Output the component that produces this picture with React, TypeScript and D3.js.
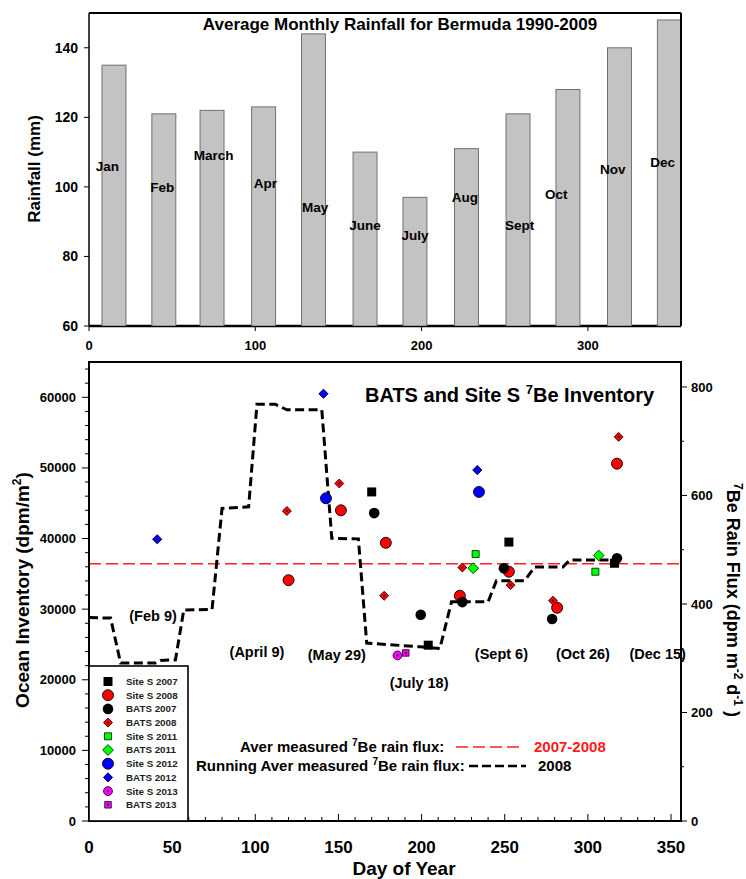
import React from "react";
import * as d3 from "d3";

// top panel: monthly rainfall
const months = ["Jan", "Feb", "March", "Apr", "May", "June", "July", "Aug", "Sept", "Oct", "Nov", "Dec"];
const monthDay = [15, 45, 74, 105, 135, 166, 196, 227, 258, 288, 319, 349];
const rainfall = [135, 121, 122, 123, 144, 110, 97, 111, 121, 128, 140, 148];
// where the month names sit (day, mm)
const monthLabelDay = [11, 44, 75, 106, 136, 166, 196, 226, 259, 281, 315, 345];
const monthLabelMm = [106, 100, 109, 101, 94, 89, 86, 97, 89, 98, 105, 107];

const rainTicks = [60, 80, 100, 120, 140];
const topDayTicks = [0, 100, 200, 300];

// bottom panel: 7Be inventory, [day, dpm/m2]
const siteS2007 = [[170, 46600], [204, 24900], [252.5, 39500], [316, 36500]];
const siteS2008 = [[120, 34100], [151.5, 44000], [178.5, 39400], [223, 31900], [252.5, 35300], [281.5, 30200], [317.5, 50600]];
const bats2007 = [[171.5, 43600], [199.5, 29200], [224.5, 31000], [249.5, 35800], [278.5, 28600], [317.5, 37200]];
const bats2008 = [[119, 43900], [150.5, 47800], [177.5, 31900], [224.5, 35900], [253.5, 33400], [279, 31200], [318.5, 54400]];
const siteS2011 = [[232.5, 37800], [304.5, 35300]];
const bats2011 = [[231, 35800], [306.5, 37600]];
const siteS2012 = [[142.5, 45700], [234.5, 46600]];
const bats2012 = [[41, 39900], [141, 60500], [233.5, 49700]];
const siteS2013 = [[185.5, 23450]];
const bats2013 = [[190.5, 23800]];

// running average rain flux 2008, [day, dpm m-2 d-1]
const runningAvg2008 = [
  [0, 375], [13, 374], [19, 291], [40, 291], [43, 296], [52, 297], [57, 389], [74, 390],
  [80, 576], [96, 579], [101, 768], [112, 768], [119, 758], [140, 758], [146, 521], [162, 520],
  [167, 328], [199, 321], [211, 318], [218, 404], [240, 404], [245, 443], [262, 443],
  [268, 468], [285, 468], [289, 481], [317, 481],
];
const averFlux = 474;

const dateLabels = ["(Feb 9)", "(April 9)", "(May 29)", "(July 18)", "(Sept 6)", "(Oct 26)", "(Dec 15)"];
const dateLabelDay = [38.5, 101, 149, 198.5, 248, 297, 342];
const dateLabelInv = [29100, 23950, 23500, 19550, 23650, 23650, 23650];

const dayTicks = [0, 50, 100, 150, 200, 250, 300, 350];
const invTicks = [0, 10000, 20000, 30000, 40000, 50000, 60000];
const fluxTicks = [0, 200, 400, 600, 800];

const series = [
  { name: "Site S 2007", data: siteS2007, shape: "square", size: 81, fill: "#000", stroke: "none", dot: false },
  { name: "Site S 2008", data: siteS2008, shape: "circle", size: 95, fill: "#ff0000", stroke: "#000", dot: false },
  { name: "BATS 2007", data: bats2007, shape: "circle", size: 88, fill: "#000", stroke: "none", dot: false },
  { name: "BATS 2008", data: bats2008, shape: "diamond", size: 40, fill: "#ff0000", stroke: "#400", dot: true },
  { name: "Site S 2011", data: siteS2011, shape: "square", size: 49, fill: "#00ff00", stroke: "#030", dot: false },
  { name: "BATS 2011", data: bats2011, shape: "diamond", size: 58, fill: "#00ff00", stroke: "#040", dot: false },
  { name: "Site S 2012", data: siteS2012, shape: "circle", size: 95, fill: "#0000ff", stroke: "#002", dot: false },
  { name: "BATS 2012", data: bats2012, shape: "diamond", size: 42, fill: "#0000ff", stroke: "#002", dot: false },
  { name: "Site S 2013", data: siteS2013, shape: "circle", size: 62, fill: "#ff00ff", stroke: "#303", dot: true },
  { name: "BATS 2013", data: bats2013, shape: "square", size: 42, fill: "#ff00ff", stroke: "#303", dot: true },
];

const font = "'Liberation Sans', Arial, sans-serif";

const x = d3.scaleLinear().domain([0, 356]).range([89, 681]);
const yRain = d3.scaleLinear().domain([60, 150]).range([326, 13]);
const yInv = d3.scaleLinear().domain([0, 65000]).range([821, 362]);
const yFlux = d3.scaleLinear().domain([0, 846]).range([821, 362]);

function Marker({ s, cx, cy }) {
  const type = s.shape === "circle" ? d3.symbolCircle : d3.symbolSquare;
  const d = d3.symbol().type(type).size(s.size)();
  const rot = s.shape === "diamond" ? " rotate(45)" : "";
  return (
    <g transform={`translate(${cx},${cy})${rot}`}>
      <path d={d} fill={s.fill} stroke={s.stroke} strokeWidth={0.9} />
      {s.dot && <circle r={1.2} fill="#222" />}
    </g>
  );
}

export default function App() {
  const [X0, X1] = x.range();
  const barW = x(14.4) - x(0);
  const fluxLine = d3.line().x((d) => x(d[0])).y((d) => yFlux(d[1]))(runningAvg2008);

  const invMinor = d3.range(0, 65001, 2000);
  const fluxMinor = d3.range(0, 846, 100);
  const dayMinor = d3.range(0, 356, 10);

  return (
    <svg width={746} height={879} style={{ position: "absolute", left: 0, top: 0, background: "#fff" }} fontFamily={font}>
      <defs>
        <clipPath id="topclip">
          <rect x={X0} y={yRain(150)} width={X1 - X0} height={yRain(60) - yRain(150)} />
        </clipPath>
        <clipPath id="botclip">
          <rect x={X0} y={362} width={X1 - X0} height={459} />
        </clipPath>
      </defs>

      {/* ---------- top panel ---------- */}
      <line x1={X0} x2={X1} y1={yRain(60)} y2={yRain(60)} stroke="#000" strokeWidth={2.5} />
      <g clipPath="url(#topclip)">
        {rainfall.map((v, i) => (
          <rect
            key={i}
            x={x(monthDay[i]) - barW / 2}
            y={yRain(v)}
            width={barW}
            height={yRain(60) - yRain(v)}
            fill="#c3c3c3"
            stroke="#707070"
            strokeWidth={1}
          />
        ))}
      </g>
      <line x1={X0} x2={X0} y1={yRain(150)} y2={yRain(60)} stroke="#000" strokeWidth={1.5} />
      <line x1={X0} x2={X1} y1={yRain(150)} y2={yRain(150)} stroke="#000" strokeWidth={2} />
      <line x1={X1} x2={X1} y1={yRain(150)} y2={yRain(60)} stroke="#000" strokeWidth={2} />
      {months.map((m, i) => (
        <text key={m} x={x(monthLabelDay[i])} y={yRain(monthLabelMm[i])} dy="0.35em" textAnchor="middle" fontSize={13.5} fontWeight="bold">
          {m}
        </text>
      ))}
      <text x={400} y={30} textAnchor="middle" fontSize={17} fontWeight="bold">
        Average Monthly Rainfall for Bermuda 1990-2009
      </text>
      {rainTicks.map((t) => (
        <g key={t}>
          <line x1={X0 - 5} x2={X0} y1={yRain(t)} y2={yRain(t)} stroke="#000" strokeWidth={1} />
          <text x={X0 - 11} y={yRain(t)} dy="0.35em" textAnchor="end" fontSize={14} fontWeight="bold">
            {t}
          </text>
        </g>
      ))}
      {topDayTicks.map((t) => (
        <g key={t}>
          <line x1={x(t)} x2={x(t)} y1={yRain(60)} y2={yRain(60) + 5} stroke="#000" strokeWidth={1} />
          <text x={x(t)} y={345} dy="0.35em" textAnchor="middle" fontSize={13} fontWeight="bold">
            {t}
          </text>
        </g>
      ))}
      <text transform="translate(40,169) rotate(-90)" textAnchor="middle" fontSize={17} fontWeight="bold">
        Rainfall (mm)
      </text>

      {/* ---------- bottom panel ---------- */}
      <g clipPath="url(#botclip)">
        <line x1={X0} x2={X1} y1={yFlux(averFlux)} y2={yFlux(averFlux)} stroke="#ff2020" strokeWidth={1.5} strokeDasharray="12 5" />
        <path d={fluxLine} fill="none" stroke="#000" strokeWidth={3} strokeDasharray="9 4.5" />
        {series.map((s) =>
          s.data.map((d, i) => <Marker key={s.name + i} s={s} cx={x(d[0])} cy={yInv(d[1])} />)
        )}
      </g>

      <rect x={X0} y={362} width={X1 - X0} height={459} fill="none" stroke="#000" strokeWidth={2} />

      {/* left axis */}
      {invMinor.map((t) => (
        <line key={t} x1={X0 - (t % 10000 === 0 ? 7 : 4)} x2={X0} y1={yInv(t)} y2={yInv(t)} stroke="#000" strokeWidth={1} />
      ))}
      {invTicks.map((t) => (
        <text key={t} x={76} y={yInv(t)} dy="0.35em" textAnchor="end" fontSize={13} fontWeight="bold">
          {t}
        </text>
      ))}
      <text transform="translate(29,590) rotate(-90)" textAnchor="middle" fontSize={19} fontWeight="bold">
        Ocean Inventory (dpm/m<tspan dy={-8} fontSize={12}>2</tspan>
        <tspan dy={8}>)</tspan>
      </text>

      {/* right axis */}
      {fluxMinor.map((t) => (
        <line key={t} x1={X1} x2={X1 + (t % 200 === 0 ? 6 : 3)} y1={yFlux(t)} y2={yFlux(t)} stroke="#000" strokeWidth={1} />
      ))}
      {fluxTicks.map((t) => (
        <text key={t} x={691} y={yFlux(t)} dy="0.35em" textAnchor="start" fontSize={13} fontWeight="bold">
          {t}
        </text>
      ))}
      <text transform="translate(727,600) rotate(90)" textAnchor="middle" fontSize={18} fontWeight="bold">
        <tspan dy={-7} fontSize={12}>7</tspan>
        <tspan dy={7}>Be Rain Flux (dpm m</tspan>
        <tspan dy={-7} fontSize={12}>-2</tspan>
        <tspan dy={7}> d</tspan>
        <tspan dy={-7} fontSize={12}>-1</tspan>
        <tspan dy={7}> )</tspan>
      </text>

      {/* bottom axis */}
      {dayMinor.map((t) => (
        <line key={t} x1={x(t)} x2={x(t)} y1={821} y2={821 - (t % 50 === 0 ? 7 : 4)} stroke="#000" strokeWidth={1} />
      ))}
      {dayTicks.map((t) => (
        <text key={t} x={x(t)} y={847} dy="0.35em" textAnchor="middle" fontSize={17} fontWeight="bold">
          {t}
        </text>
      ))}
      <text x={404} y={875} textAnchor="middle" fontSize={19} fontWeight="bold">
        Day of Year
      </text>

      {/* title */}
      <text x={365} y={402} fontSize={20} fontWeight="bold">
        BATS and Site S <tspan dy={-8} fontSize={13}>7</tspan>
        <tspan dy={8}>Be Inventory</tspan>
      </text>

      {/* date labels */}
      {dateLabels.map((l, i) => (
        <text key={l} x={x(dateLabelDay[i])} y={yInv(dateLabelInv[i])} dy="0.35em" textAnchor="middle" fontSize={14.5} fontWeight="bold">
          {l}
        </text>
      ))}

      {/* flux line key */}
      <text x={240} y={752} fontSize={15} fontWeight="bold">
        Aver measured <tspan dy={-6} fontSize={10}>7</tspan>
        <tspan dy={6}>Be rain flux:</tspan>
      </text>
      <line x1={456} x2={520} y1={747} y2={747} stroke="#ff2020" strokeWidth={1.6} strokeDasharray="12 5" />
      <text x={534} y={752} fontSize={15} fontWeight="bold" fill="#ff1a1a">
        2007-2008
      </text>
      <text x={196} y={771} fontSize={15} fontWeight="bold">
        Running Aver measured <tspan dy={-6} fontSize={10}>7</tspan>
        <tspan dy={6}>Be rain flux:</tspan>
      </text>
      <line x1={469} x2={526} y1={766} y2={766} stroke="#000" strokeWidth={2.5} strokeDasharray="9 4" />
      <text x={538} y={771} fontSize={15} fontWeight="bold">
        2008
      </text>

      {/* legend */}
      <rect x={X0} y={666} width={99} height={155} fill="#fff" stroke="#000" strokeWidth={1.6} />
      {series.map((s, i) => {
        const cy = 681.5 + i * 13.7;
        return (
          <g key={s.name}>
            <Marker s={s} cx={108} cy={cy} />
            <text x={126} y={cy} dy="0.35em" fontSize={9.8} fontWeight="bold" fill="#222">
              {s.name}
            </text>
          </g>
        );
      })}
    </svg>
  );
}
